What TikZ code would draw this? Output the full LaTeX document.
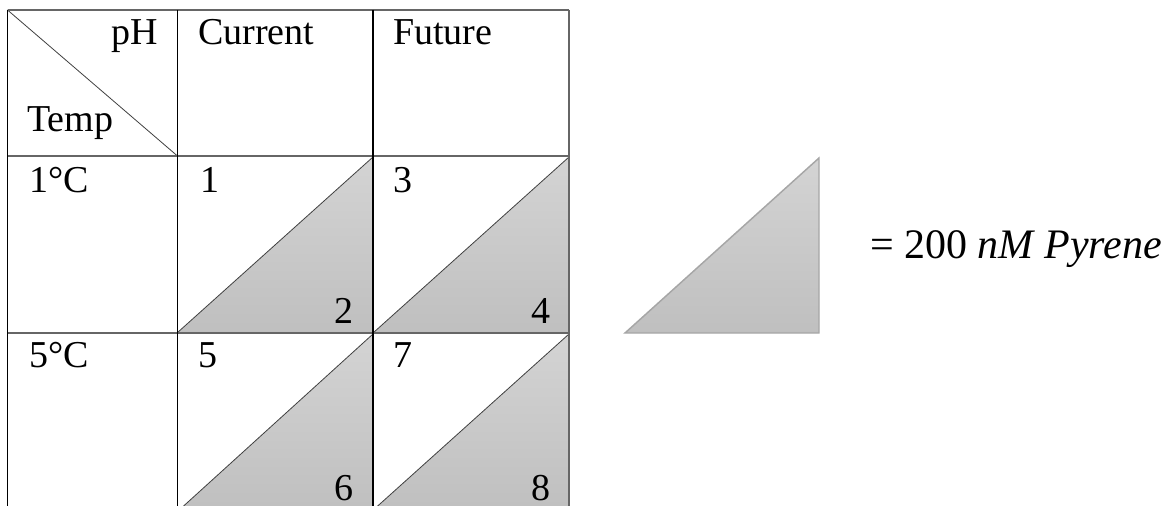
\documentclass[tikz,border=0pt]{standalone}
\usepackage{fontspec}
\setmainfont{Liberation Serif}
\begin{document}
\begin{tikzpicture}[x=0.75pt,y=-0.75pt,
  hline/.style={draw=black!60,line width=1.4pt},
  vline/.style={draw=black,line width=1.1pt},
  rline/.style={draw=black!60,line width=1.4pt},
  tri/.style={top color=black!17,bottom color=black!25,draw=black!75,line width=0.6pt},
  legtri/.style={top color=black!17,bottom color=black!25,draw=black!35,line width=1.1pt},
  txt/.style={inner sep=0pt,font=\fontsize{28.5}{31}\selectfont},
  leg/.style={inner sep=0pt,font=\fontsize{31.5}{35}\selectfont}]
\useasboundingbox (0,0) rectangle (1172,506);
\clip (0,0) rectangle (1172,506);
% coordinates
\coordinate (tl) at (7.5,10);
\coordinate (tr) at (569,10);
% shaded triangles
\path[tri] (177,333) -- (373,157) -- (373,333) -- cycle;
\path[tri] (373,333) -- (569,157) -- (569,333) -- cycle;
\path[tri] (177,512) -- (373,334) -- (373,512) -- cycle;
\path[tri] (371,512) -- (569,334) -- (569,512) -- cycle;
% diagonal of header cell
\draw[black!75,line width=0.6pt] (7.5,10) -- (177.5,156);
% grid
\draw[hline] (tl) -- (tr);
\draw[hline] (7.5,156) -- (569,156);
\draw[hline] (7.5,333) -- (569,333);
\draw[vline] (7.5,10) -- (7.5,506);
\draw[vline] (177.5,10) -- (177.5,506);
\draw[vline] (373,10) -- (373,506);
\draw[rline] (tr) -- (569,506);
% legend
\path[legtri] (625,333) -- (819,158) -- (819,333) -- cycle;
\node[leg,anchor=base west] (legtext) at (870,259) {= 200 \textit{nM Pyrene}};
% texts
\node[txt,anchor=base east] (ph) at (158,45) {pH};
\node[txt,anchor=base west] (temp) at (27,132) {Temp};
\node[txt,anchor=base west] (cur) at (198,45) {Current};
\node[txt,anchor=base west] (fut) at (393,45) {Future};
\node[txt,anchor=base west] (t1) at (29,193) {1°C};
\node[txt,anchor=base west] (t5) at (29,368) {5°C};
\node[txt,anchor=base west] (n1) at (200,193) {1};
\node[txt,anchor=base west] (n3) at (393,193) {3};
\node[txt,anchor=base east] (n2) at (354,324) {2};
\node[txt,anchor=base east] (n4) at (551,324) {4};
\node[txt,anchor=base west] (n5) at (198,368) {5};
\node[txt,anchor=base west] (n7) at (393,368) {7};
\node[txt,anchor=base east] (n6) at (354,500) {6};
\node[txt,anchor=base east] (n8) at (551,500) {8};
\end{tikzpicture}
\end{document}
